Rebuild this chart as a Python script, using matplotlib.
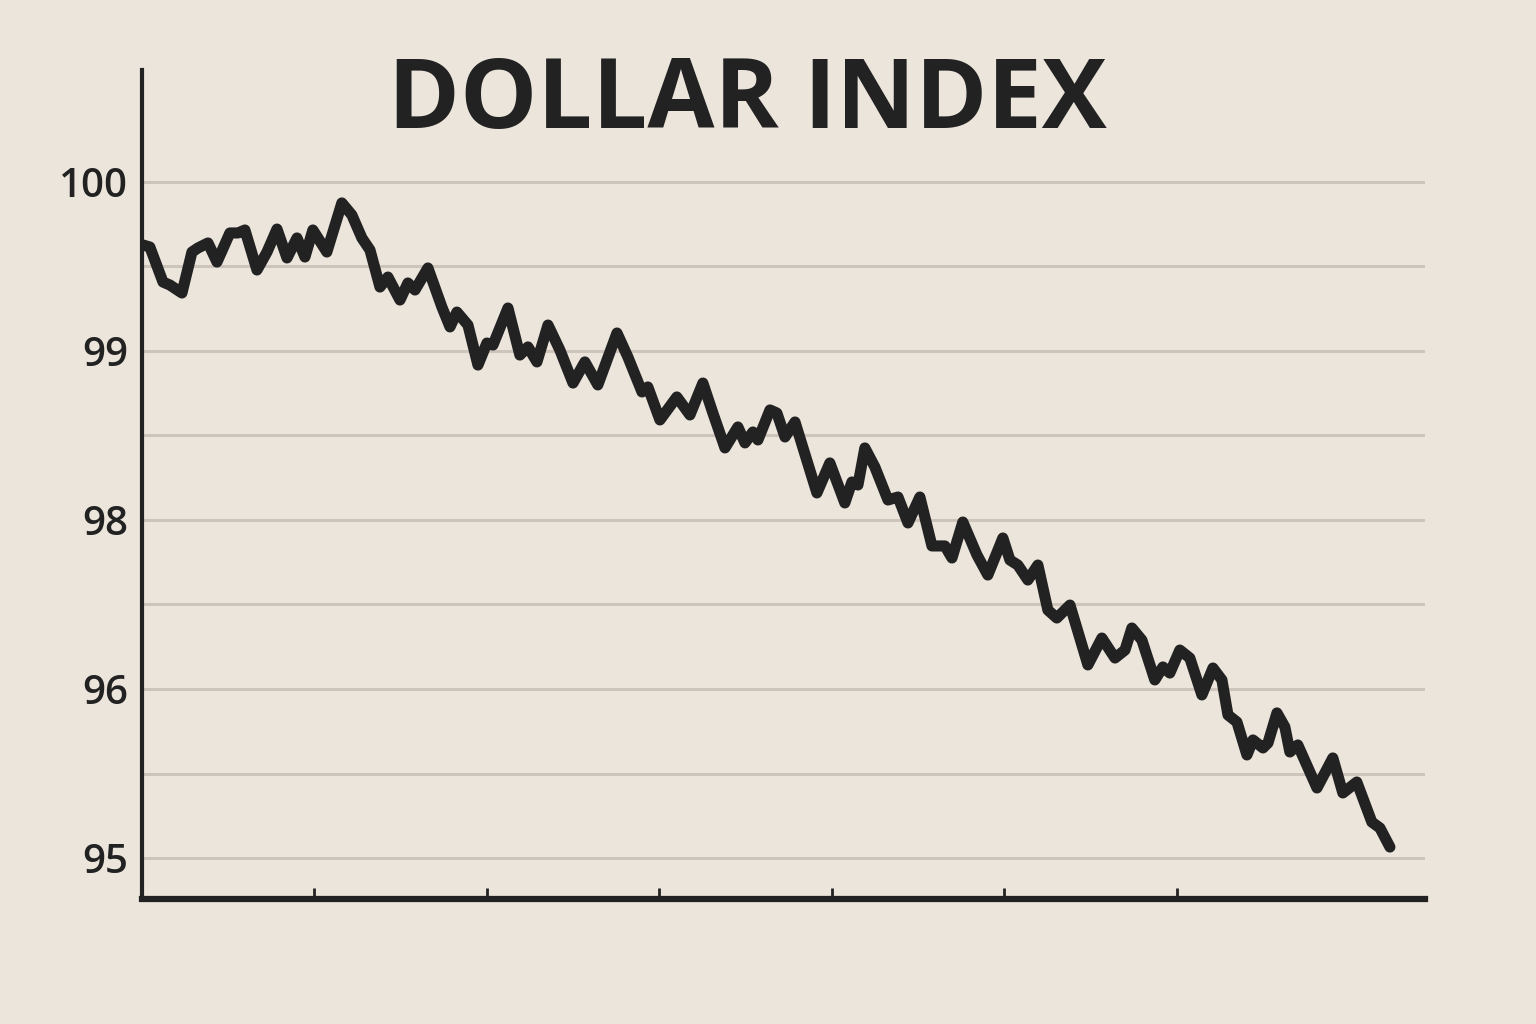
import matplotlib.pyplot as plt
import numpy as np

# time axis in tick units (ticks at 1..6), values on a 95-100 linear scale
t = [0.006, 0.046, 0.122, 0.162, 0.232, 0.290, 0.325, 0.383, 0.435, 0.510,
     0.557, 0.597, 0.667, 0.725, 0.783, 0.841, 0.899, 0.945, 0.991, 1.072,
     1.159, 1.217, 1.275, 1.322, 1.380, 1.426, 1.496, 1.542, 1.583, 1.658,
     1.739, 1.786, 1.826, 1.890, 1.948, 2.000, 2.035, 2.122, 2.191, 2.238,
     2.290, 2.354, 2.423, 2.499, 2.568, 2.643, 2.754, 2.817, 2.899, 2.933,
     3.003, 3.101, 3.177, 3.252, 3.310, 3.380, 3.455, 3.496, 3.542, 3.571,
     3.641, 3.681, 3.728, 3.786, 3.913, 3.988, 4.075, 4.116, 4.151, 4.191,
     4.249, 4.325, 4.383, 4.441, 4.510, 4.580, 4.655, 4.696, 4.759, 4.841,
     4.904, 4.991, 5.032, 5.078, 5.136, 5.194, 5.252, 5.304, 5.380, 5.484,
     5.565, 5.641, 5.699, 5.739, 5.797, 5.872, 5.919, 5.959, 6.017, 6.075,
     6.145, 6.209, 6.261, 6.296, 6.348, 6.406, 6.441, 6.499, 6.528, 6.580,
     6.626, 6.655, 6.701, 6.812, 6.904, 6.962, 7.043, 7.130, 7.177, 7.235]

index_vals = [99.534, 99.519, 99.260, 99.238, 99.179, 99.482, 99.512, 99.549, 99.408, 99.623,
              99.623, 99.645, 99.349, 99.482, 99.652, 99.438, 99.586, 99.445, 99.645, 99.482,
              99.845, 99.756, 99.586, 99.497, 99.223, 99.297, 99.127, 99.253, 99.201, 99.364,
              99.075, 98.928, 99.038, 98.942, 98.646, 98.809, 98.794, 99.068, 98.720, 98.780,
              98.669, 98.942, 98.757, 98.513, 98.669, 98.499, 98.883, 98.706, 98.447, 98.484,
              98.240, 98.410, 98.277, 98.513, 98.291, 98.033, 98.188, 98.070, 98.151, 98.092,
              98.314, 98.291, 98.114, 98.225, 97.700, 97.922, 97.626, 97.781, 97.759, 98.033,
              97.892, 97.648, 97.670, 97.478, 97.670, 97.308, 97.308, 97.219, 97.485, 97.241,
              97.093, 97.367, 97.204, 97.167, 97.056, 97.167, 96.834, 96.775, 96.871, 96.428,
              96.627, 96.479, 96.538, 96.701, 96.612, 96.317, 96.413, 96.368, 96.538, 96.479,
              96.206, 96.405, 96.317, 96.058, 96.006, 95.762, 95.873, 95.814, 95.851, 96.073,
              95.969, 95.784, 95.836, 95.518, 95.740, 95.481, 95.562, 95.266, 95.222, 95.081]

ytick_pos = [100, 98.75, 97.5, 96.25, 95]
ytick_labels = ["100", "99", "98", "96", "95"]
xtick_pos = [1, 2, 3, 4, 5, 6]

BG = "#ECE5DC"
INK = "#222222"
GRID = "#CDC4BB"

plt.rcParams["font.family"] = ["Open Sans", "DejaVu Sans"]

fig = plt.figure(figsize=(15.36, 10.24), dpi=100, facecolor=BG)
ax = fig.add_axes([0.0924, 0.1221, 0.8353, 0.8095], facecolor=BG)

# horizontal guide lines every 0.625
for g in np.arange(95, 100.01, 0.625):
    ax.axhline(g, xmin=0.002, xmax=1.0, color=GRID, lw=2.2, zorder=1)

ax.plot(t, index_vals, color=INK, lw=8, solid_joinstyle="round",
        solid_capstyle="round", zorder=3)

ax.set_xlim(0, 7.438)
ax.set_ylim(94.697, 100.828)

ax.set_yticks(ytick_pos)
ax.set_yticklabels(ytick_labels)
ax.set_xticks(xtick_pos)
ax.set_xticklabels([])
ax.tick_params(axis="y", length=0, pad=10, labelsize=29, labelcolor=INK)
for lbl in ax.get_yticklabels():
    lbl.set_fontweight("semibold")
ax.tick_params(axis="x", direction="in", length=8, width=2, color=INK)

for side in ["top", "right"]:
    ax.spines[side].set_visible(False)
ax.spines["left"].set_linewidth(3)
ax.spines["bottom"].set_linewidth(4.5)
ax.spines["left"].set_color(INK)
ax.spines["bottom"].set_color(INK)

fig.text(0.4867, 0.900, "DOLLAR INDEX", ha="center", va="center",
         fontsize=70, fontweight="bold", color=INK)

fig.savefig("out.png", dpi=100, facecolor=BG)
